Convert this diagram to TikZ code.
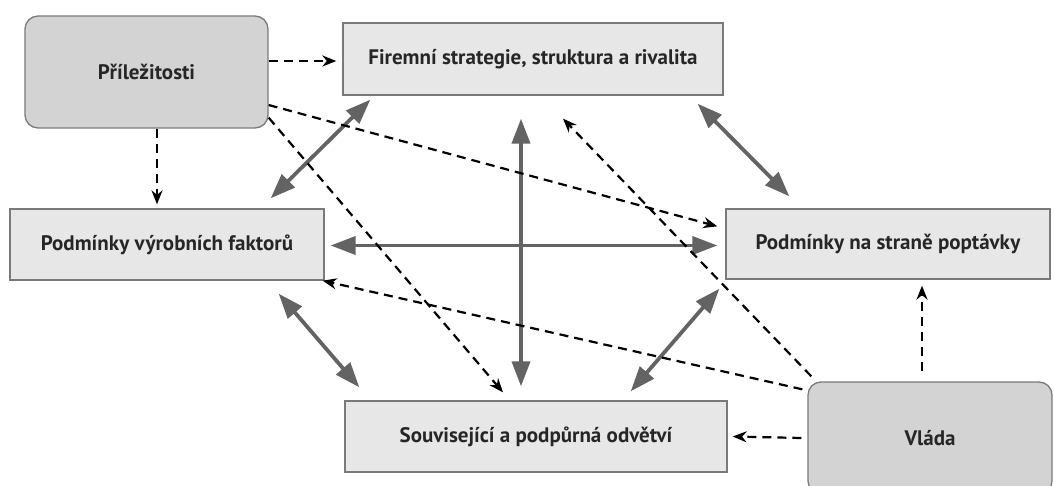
\documentclass[tikz,border=0pt]{standalone}
\usepackage{fontspec}
\setmainfont{PT Sans}
\usetikzlibrary{arrows.meta}
\definecolor{boxfill}{HTML}{E7E7E7}
\definecolor{roundfill}{HTML}{D3D3D3}
\definecolor{boxline}{HTML}{7A7A7A}
\definecolor{arrowgray}{HTML}{636363}
\tikzset{
  rectbox/.style={draw=boxline, line width=1.3pt, fill=boxfill, inner sep=0pt, text=black!85, font=\bfseries\fontsize{21}{24}\selectfont},
  roundbox/.style={rectbox, fill=roundfill, rounded corners=13pt},
  biarrow/.style={draw=arrowgray, line width=3.8pt, {Triangle[length=25pt,width=18pt]}-{Triangle[length=25pt,width=18pt]}},
  dasharrow/.style={draw=black, line width=2.2pt, dash pattern=on 9pt off 6pt, -{Stealth[length=14pt,width=11pt]}}
}
\begin{document}
\begin{tikzpicture}[x=1pt,y=-1pt]
\useasboundingbox (0,0) rectangle (1054,486);
\node[roundbox, minimum width=243pt, minimum height=112pt] (prilez) at (146.5,72) {Příležitosti};
\node[rectbox, minimum width=380pt, minimum height=72pt] (firm) at (533,59) {Firemní strategie, struktura a rivalita};
\node[rectbox, minimum width=314pt, minimum height=71pt] (vyrob) at (167,244.5) {Podmínky výrobních faktorů};
\node[rectbox, minimum width=324pt, minimum height=70pt] (popt) at (888,244) {Podmínky na straně poptávky};
\node[rectbox, minimum width=382pt, minimum height=71pt] (souv) at (536,436.5) {Související a podpůrná odvětví};
\node[roundbox, minimum width=244pt, minimum height=112pt] (vlada) at (930,438) {Vláda};
% thick grey double arrows
\draw[biarrow] ([xshift=28pt,yshift=-4pt]firm.south west) -- ([xshift=-54pt,yshift=10pt]vyrob.north east);
\draw[biarrow] ([xshift=-26pt,yshift=-8pt]firm.south east) -- ([xshift=64pt,yshift=12pt]popt.north west);
\draw[biarrow] ([xshift=-12pt,yshift=-23pt]firm.south) -- ([xshift=-15pt,yshift=14pt]souv.north);
\draw[biarrow] ([xshift=6pt,yshift=-1pt]vyrob.east) -- ([xshift=-8pt,yshift=-1.5pt]popt.west);
\draw[biarrow] ([xshift=-46pt,yshift=-13pt]vyrob.south east) -- ([xshift=15pt,yshift=13pt]souv.north west);
\draw[biarrow] ([xshift=-6pt,yshift=-9pt]popt.south west) -- ([xshift=-97pt,yshift=9pt]souv.north east);
% dashed black arrows
\draw[dasharrow] ([yshift=11pt]prilez.east) -- ([xshift=-6pt,yshift=-2pt]firm.west);
\draw[dasharrow] ([xshift=10.5pt]prilez.south) -- ([xshift=-10pt,yshift=4pt]vyrob.north);
\draw[dasharrow] ([yshift=-33pt]prilez.east) -- ([xshift=-8pt,yshift=-18pt]popt.north west);
\draw[dasharrow] ([yshift=11pt]prilez.south east) -- ([xshift=-33pt,yshift=8pt]souv.north);
\draw[dasharrow] ([xshift=4pt,yshift=5pt]vlada.north west) -- ([xshift=30pt,yshift=-23pt]firm.south);
\draw[dasharrow] ([xshift=-5pt,yshift=-8pt]vlada.north west) -- ([xshift=-2pt]vyrob.south east);
\draw[dasharrow] ([xshift=-6pt]vlada.west) -- ([xshift=5pt]souv.east);
\draw[dasharrow] ([xshift=-8pt,yshift=10pt]vlada.north) -- ([xshift=34pt,yshift=-6pt]popt.south);
\end{tikzpicture}
\end{document}
